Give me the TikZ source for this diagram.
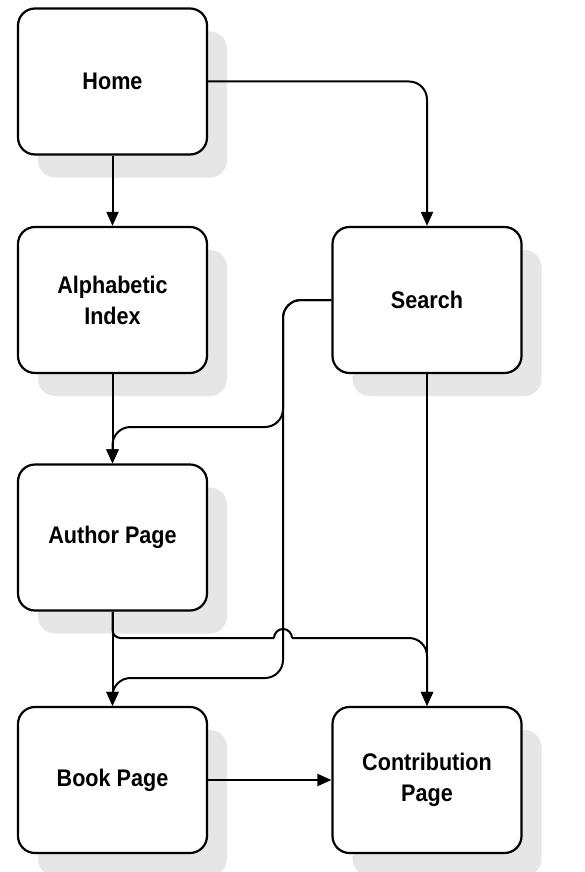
\documentclass[tikz,border=0pt]{standalone}
\usepackage{fontspec}
\setmainfont{Liberation Sans}[FakeStretch=0.9]
\usepackage{tikz}
\usetikzlibrary{arrows.meta}
\usetikzlibrary{shadows}
\definecolor{shadowgrey}{HTML}{E6E6E6}

\tikzset{
  page/.style={draw, line width=2.2pt, fill=white, rounded corners=17pt,
    minimum width=189pt, minimum height=146pt, align=center,
    font=\fontsize{24}{31}\selectfont\bfseries,
    drop shadow={shadow xshift=20pt, shadow yshift=-23pt, fill=shadowgrey, opacity=1}},
  wire/.style={line width=2pt, rounded corners=18pt},
  link/.style={wire, -{Triangle[length=14pt, width=12pt]}},
}

\begin{document}
\begin{tikzpicture}[x=1pt, y=-1pt]
        \useasboundingbox (0,0) rectangle (585,872);

        % Pages
        \node[page] (home) at (112.5,81.5) {Home};
        \node[page] (alpha) at (112.5,300) {Alphabetic\\Index};
        \node[page] (search) at (427,300) {Search};
        \node[page] (author) at (112.5,537.5) {Author Page};
        \node[page] (book) at (112.5,780) {Book Page};
        \node[page] (contrib) at (427,780) {Contribution\\Page};

        % bends
        \coordinate (sa) at (283,427);
        \coordinate (sb) at (283,678);
        \coordinate (hop) at (274,638);

        % Home links
        \draw[link] (home.south) -- (alpha.north);
        \draw[link] (home.east) -| (search.north);

        % Index
        \draw[link] (alpha.south) -- (author.north);

        % Search links
        \draw[link] (search.west) -| (sa) -| (author.north);
        \draw[link] (search.west) -| (sb) -| (book.north);
        \draw[link] (search.south) -- (contrib.north);

        % Author links
        \draw[link] (author.south) -- (book.north);
        \draw[wire, rounded corners=8pt] (author.south) |- (hop);
        \draw[wire] (hop) arc[start angle=180, end angle=360, radius=9];
        \draw[link] ([xshift=18pt]hop) -| (contrib.north);

        % Book
        \draw[link] (book.east) -- (contrib.west);

\end{tikzpicture}
\end{document}
